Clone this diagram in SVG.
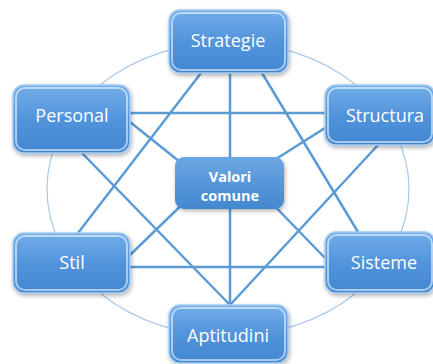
<svg xmlns="http://www.w3.org/2000/svg" width="433" height="364" viewBox="0 0 433 364">
<defs>
<linearGradient id="g" x1="0" y1="0" x2="0" y2="1">
<stop offset="0" stop-color="#72ade9"/>
<stop offset="0.5" stop-color="#5294dc"/>
<stop offset="1" stop-color="#4287d1"/>
</linearGradient>
<linearGradient id="gc" x1="0" y1="0" x2="0" y2="1">
<stop offset="0" stop-color="#6ca7e3"/>
<stop offset="1" stop-color="#4287d0"/>
</linearGradient>
<filter id="sh" x="-20%" y="-20%" width="140%" height="150%">
<feDropShadow dx="1" dy="2" stdDeviation="2" flood-color="#000" flood-opacity="0.3"/>
</filter>
</defs>
<style>
.ring{fill:none;stroke:#a9c8ea;stroke-width:1.2}
.ln{stroke:#5b9bd5;stroke-width:2.5;fill:none}
.box{fill:url(#g);stroke:#a6cbf0;stroke-width:1.5}
.hi{fill:none;stroke:#ffffff;stroke-opacity:0.55;stroke-width:2}
.ctr{fill:url(#gc);filter:url(#sh)}
.t{font-family:"Open Sans","Noto Sans",sans-serif;font-size:18px;fill:#fff;text-anchor:middle}
.tc{font-family:"Open Sans","Noto Sans",sans-serif;font-size:14.5px;font-weight:bold;fill:#fff;text-anchor:middle}
</style>
<ellipse class="ring" cx="228" cy="189" rx="181" ry="147"/>
<g id="connectors">
<line class="ln" x1="130" y1="113" x2="325" y2="113"/>
<line class="ln" x1="130" y1="267" x2="325" y2="267"/>
<line class="ln" x1="230" y1="73" x2="230" y2="305"/>
<line class="ln" x1="201" y1="73" x2="78" y2="233"/>
<line class="ln" x1="262" y1="73" x2="358" y2="232"/>
<line class="ln" x1="82" y1="153" x2="230" y2="305"/>
<line class="ln" x1="378" y1="145" x2="230" y2="305"/>
<line class="ln" x1="130" y1="122" x2="195" y2="174"/>
<line class="ln" x1="325" y1="128" x2="265" y2="166"/>
<line class="ln" x1="130" y1="255" x2="195" y2="192"/>
<line class="ln" x1="325" y1="258" x2="262" y2="193"/>
</g>
<g id="strategie">
<rect class="box" x="169" y="10" width="119" height="63" rx="11" filter="url(#sh)"/>
<rect class="hi" x="172" y="13" width="113" height="57" rx="9"/>
<text class="t" x="228" y="47">Strategie</text>
</g>
<g id="personal">
<rect class="box" x="13" y="85" width="117" height="68" rx="11" filter="url(#sh)"/>
<rect class="hi" x="16" y="88" width="111" height="62" rx="9"/>
<text class="t" x="72" y="122">Personal</text>
</g>
<g id="structura">
<rect class="box" x="325" y="85" width="110" height="60" rx="11" filter="url(#sh)"/>
<rect class="hi" x="328" y="88" width="104" height="54" rx="9"/>
<text class="t" x="385" y="122">Structura</text>
</g>
<g id="stil">
<rect class="box" x="13" y="233" width="117" height="60" rx="11" filter="url(#sh)"/>
<rect class="hi" x="16" y="236" width="111" height="54" rx="9"/>
<text class="t" x="72" y="269">Stil</text>
</g>
<g id="sisteme">
<rect class="box" x="325" y="232" width="110" height="61" rx="11" filter="url(#sh)"/>
<rect class="hi" x="328" y="235" width="104" height="55" rx="9"/>
<text class="t" x="384" y="269">Sisteme</text>
</g>
<g id="aptitudini">
<rect class="box" x="169" y="305" width="119" height="58" rx="11" filter="url(#sh)"/>
<rect class="hi" x="172" y="308" width="113" height="52" rx="9"/>
<text class="t" x="228" y="342">Aptitudini</text>
</g>
<g id="valori">
<rect class="ctr" x="175" y="157" width="109" height="52" rx="9"/>
<text class="tc" x="230" y="182">Valori</text>
<text class="tc" x="230" y="201">comune</text>
</g>
</svg>
